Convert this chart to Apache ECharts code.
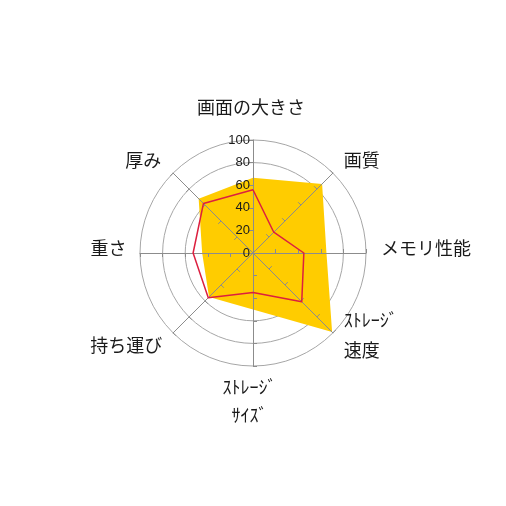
<!DOCTYPE html>
<html>
<head>
<meta charset="utf-8">
<script src="https://cdn.jsdelivr.net/npm/echarts@6/dist/echarts.min.js"></script>
<style>
html, body { margin: 0; padding: 0; background: #fff; }
#chart { width: 506px; height: 506px; }
</style>
</head>
<body>
<div id="chart"></div>
<script>
// 軸の名前（上から時計回り）
var categories = ['画面の大きさ', '画質', 'メモリ性能', 'ｽﾄﾚｰｼﾞ\n速度', 'ｽﾄﾚｰｼﾞ\nｻｲｽﾞ', '持ち運び', '重さ', '厚み'];
var seriesA = [66.5, 86.5, 65, 99, 50, 55, 45, 68];  // 黄色の面
var seriesB = [56, 26, 45, 61, 35, 56, 53, 62];      // 赤い線
var tickValues = [0, 20, 40, 60, 80, 100];

// 名前の位置調整 [上, 右, 下, 左]（行ごと）
var namePad = [
    [[0, 4, 58, 0]],
    [[0, 0, 21, 8]],
    [[0, 0, 9, 11]],
    [[0, 0, 11.5, 8], [0, 0, 1, 8]],
    [[63, 7, 10, 0], [0, 7, 0, 0]],
    [[19, 8, 0, 0]],
    [[0, 9.5, 9, 0]],
    [[0, 9, 21, 0]]
];

//echartsは反時計回りに並べる
function ccw(arr) {
    return [arr[0]].concat(arr.slice(1).reverse());
}

var R = 113;
var gridColor = '#a6a6a6';
var spokeColor = '#8c8c8c';

var rich = {};
namePad.forEach(function (lines, i) {
    lines.forEach(function (p, j) {
        rich['n' + i + '_' + j] = {
            fontFamily: 'Noto Sans CJK JP',
            fontSize: 18,
            color: '#1a1a1a',
            padding: p
        };
    });
});

var indicator = ccw(categories).map(function (c) {
    return { name: c, max: 100, min: 0 };
});

var chart = echarts.init(document.getElementById('chart'));

var option = {
    animation: false,
    radar: [
        {
            center: ['50%', '50%'],
            radius: R,
            shape: 'circle',
            splitNumber: 5,
            z: 1,
            nameGap: 4,
            indicator: indicator,
            axisName: {
                verticalAlign: 'middle',
                formatter: function (name) {
                    var i = categories.indexOf(name);
                    return name.split('\n').map(function (l, j) {
                        return '{n' + i + '_' + j + '|' + l + '}';
                    }).join('\n');
                },
                rich: rich
            },
            axisLine: { show: false },
            axisTick: { show: false },
            axisLabel: { show: false },
            splitArea: { show: false },
            splitLine: { show: true, lineStyle: { color: gridColor, width: 1 } }
        },
        {
            center: ['50%', '50%'],
            radius: R,
            shape: 'circle',
            splitNumber: 5,
            z: 3,
            indicator: indicator,
            axisName: { show: false },
            axisLine: { show: true, lineStyle: { color: spokeColor, width: 1 } },
            axisTick: { show: true, length: 4, lineStyle: { color: spokeColor } },
            axisLabel: { show: false },
            splitArea: { show: false },
            splitLine: { show: false }
        }
    ],
    // 目盛りの数字用
    grid: { left: 253, top: 253 - R, width: 1, height: R },
    xAxis: { type: 'value', show: false },
    yAxis: {
        type: 'value',
        z: 10,
        min: tickValues[0],
        max: tickValues[tickValues.length - 1],
        interval: tickValues[1] - tickValues[0],
        axisLine: { show: false },
        axisTick: { show: false },
        splitLine: { show: false },
        axisLabel: {
            margin: 3,
            color: '#1a1a1a',
            fontSize: 13,
            fontFamily: 'Liberation Sans'
        }
    },
    series: [
        {
            type: 'radar',
            radarIndex: 0,
            z: 2,
            symbol: 'none',
            lineStyle: { width: 0, color: '#FFCC00' },
            areaStyle: { color: '#FFCC00', opacity: 1 },
            data: [{ value: ccw(seriesA) }]
        },
        {
            type: 'radar',
            radarIndex: 0,
            z: 4,
            symbol: 'none',
            lineStyle: { width: 1.5, color: '#DC1F3F' },
            data: [{ value: ccw(seriesB) }]
        }
    ]
};

chart.setOption(option);
</script>
</body>
</html>
